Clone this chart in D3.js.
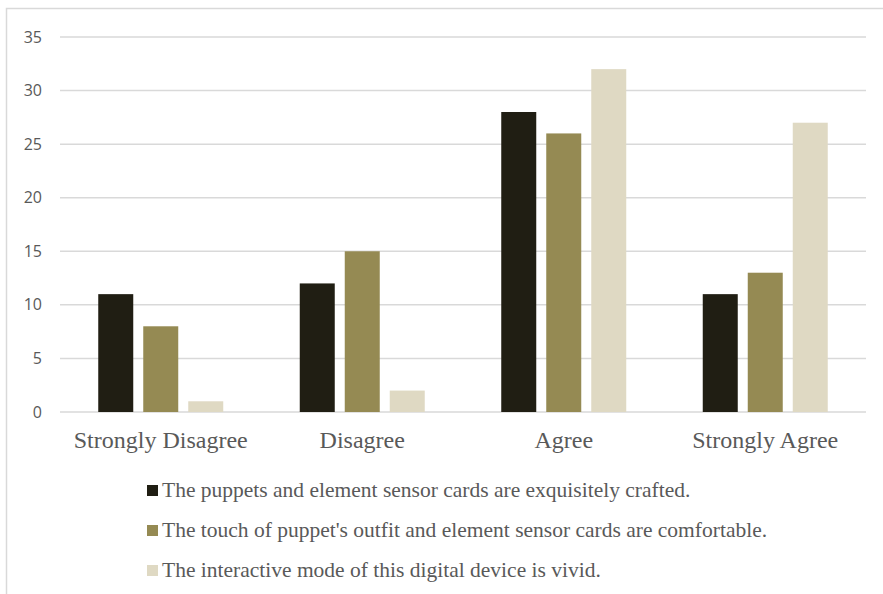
<!DOCTYPE html>
<html><head><meta charset="utf-8">
<script src="https://cdn.jsdelivr.net/npm/d3@7"></script>
<style>body{margin:0;background:#fff}svg{display:block}</style>
</head><body>
<svg id="chart" width="883" height="594"></svg>
<script>
const categories = ["Strongly Disagree", "Disagree", "Agree", "Strongly Agree"];
const seriesNames = [
  "The puppets and element sensor cards are exquisitely crafted.",
  "The touch of puppet's outfit and element sensor cards are comfortable.",
  "The interactive mode of this digital device is vivid."
];
const crafted = [11, 12, 28, 11];
const comfortable = [8, 15, 26, 13];
const vivid = [1, 2, 32, 27];
const yTicks = [0, 5, 10, 15, 20, 25, 30, 35];
const colors = ["#201e13", "#958a53", "#dfd9c3"];

const series = [crafted, comfortable, vivid];
const svg = d3.select("#chart");

// outer border
svg.append("path").attr("d", "M6.5,594 L6.5,8.5 L883,8.5")
  .attr("fill", "none").attr("stroke", "#d9d9d9").attr("stroke-width", 1.5);

const plotLeft = 60, plotRight = 866, plotTop = 37, plotBottom = 412;
const x0 = d3.scaleBand().domain(categories).range([plotLeft, plotRight]);
const x1 = d3.scaleBand().domain(d3.range(3)).range([0, 125]).paddingInner(0.2222);
const y = d3.scaleLinear().domain([0, 35]).range([plotBottom, plotTop]);

// gridlines
svg.append("g").selectAll("line").data(yTicks).join("line")
  .attr("x1", plotLeft).attr("x2", plotRight)
  .attr("y1", d => y(d)).attr("y2", d => y(d))
  .attr("stroke", "#d9d9d9").attr("stroke-width", 1.5);

// y tick labels
svg.append("g").selectAll("text").data(yTicks).join("text")
  .attr("x", 42).attr("y", d => y(d)).attr("dy", "0.35em")
  .attr("text-anchor", "end")
  .attr("font-family", "'Open Sans', 'DejaVu Sans', sans-serif")
  .attr("font-size", 16).attr("fill", "#595959")
  .text(d => d);

// bars
const groups = svg.append("g").selectAll("g").data(categories).join("g")
  .attr("transform", c => `translate(${x0(c) + (x0.bandwidth() - 125) / 2},0)`);
groups.selectAll("rect").data((c, ci) => series.map((s, si) => ({si, v: s[ci]}))).join("rect")
  .attr("x", d => x1(d.si)).attr("width", x1.bandwidth())
  .attr("y", d => y(d.v)).attr("height", d => y(0) - y(d.v))
  .attr("fill", d => colors[d.si]);

// category labels
svg.append("g").selectAll("text").data(categories).join("text")
  .attr("x", c => x0(c) + x0.bandwidth() / 2).attr("y", 448)
  .attr("text-anchor", "middle")
  .attr("font-family", "'Liberation Serif', 'Times New Roman', serif")
  .attr("font-size", 24).attr("fill", "#595959")
  .text(c => c);

// legend
const leg = svg.append("g").selectAll("g").data(seriesNames).join("g")
  .attr("transform", (d, i) => `translate(147,${485 + i * 40})`);
leg.append("rect").attr("width", 11).attr("height", 11).attr("fill", (d, i) => colors[i]);
leg.append("text").attr("x", 15).attr("y", 12)
  .attr("font-family", "'Liberation Serif', 'Times New Roman', serif")
  .attr("font-size", 21.5).attr("fill", "#595959")
  .text(d => d);
</script>
</body></html>
